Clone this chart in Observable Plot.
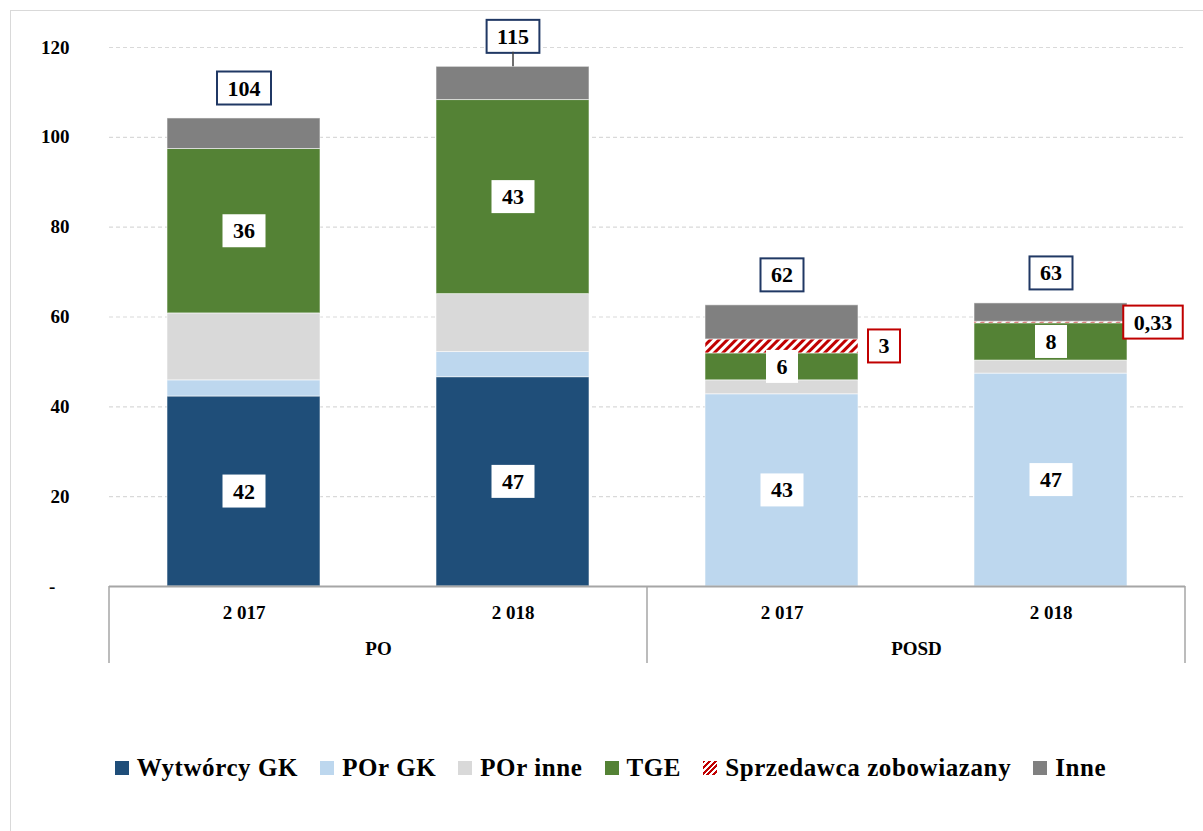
<!DOCTYPE html>
<html>
<head>
<meta charset="utf-8">
<script src="https://cdn.jsdelivr.net/npm/d3@7"></script>
<script src="https://cdn.jsdelivr.net/npm/@observablehq/plot@0.6"></script>
<style>
  html, body { margin: 0; padding: 0; background: #fff; }
  body { width: 1203px; height: 831px; overflow: hidden; position: relative; font-family: "Liberation Serif", "Times New Roman", serif; }
  #frame { position: absolute; left: 10px; top: 10px; width: 1400px; height: 1000px; border-left: 1px solid #d9d9d9; border-top: 1px solid #d9d9d9; }
  #chart { position: absolute; left: 0; top: 0; }
  #legend { position: absolute; left: 0; top: 754px; width: 1203px; padding-left: 18px; box-sizing: border-box; display: flex; justify-content: center; align-items: center; gap: 22px; font-weight: bold; font-size: 25px; letter-spacing: 0.6px; color: #000; }
  #legend .item { display: flex; align-items: center; }
  #legend .sw { width: 14px; height: 14px; margin-right: 8px; }
</style>
</head>
<body>
<div id="frame"></div>
<div id="chart"></div>
<div id="legend"></div>
<script>
// ---- data ----
const groups = ["PO", "PO", "POSD", "POSD"];
const years = ["2 017", "2 018", "2 017", "2 018"];
const seriesNames = ["Wytwórcy GK", "POr GK", "POr inne", "TGE", "Sprzedawca zobowiazany", "Inne"];
const seriesColors = ["#1F4E79", "#BDD7EE", "#D9D9D9", "#548235", "url(#hatchRed)", "#808080"];

const wytworcyGK = [42.3, 46.6, 0, 0];
const porGK      = [3.6, 5.6, 42.8, 47.4];
const porInne    = [14.9, 12.9, 3.1, 2.9];
const tge        = [36.6, 43.2, 6.0, 8.3];
const sprzedawca = [0, 0, 3.1, 0.33];
const inne       = [6.8, 7.4, 7.6, 4.1];

const wytworcyLabels   = ["42", "47", null, null];
const porGKLabels      = [null, null, "43", "47"];
const tgeLabels        = ["36", "43", "6", "8"];
const sprzedawcaLabels = [null, null, "3", "0,33"];
const totalLabels      = ["104", "115", "62", "63"];
const totalLeader      = [false, true, false, false];

const yTicks = [0, 20, 40, 60, 80, 100, 120];

// ---- build tables ----
const seriesValues = [wytworcyGK, porGK, porInne, tge, sprzedawca, inne];
const seriesLabels = [wytworcyLabels, porGKLabels, null, tgeLabels, null, null];
const data = [];
seriesNames.forEach((s, si) => {
  seriesValues[si].forEach((v, i) => {
    data.push({
      group: groups[i], year: years[i], series: s, value: v,
      label: seriesLabels[si] ? seriesLabels[si][i] : null,
      outLabel: si === 4 ? sprzedawcaLabels[i] : null
    });
  });
});
const totals = groups.map((g, i) => ({
  group: g, year: years[i],
  total: d3.sum(seriesValues, s => s[i]),
  label: totalLabels[i], leader: totalLeader[i]
}));

const font = "'Liberation Serif', 'Times New Roman', serif";

const plot = Plot.plot({
  width: 1203,
  height: 666,
  marginLeft: 108,
  marginRight: 18,
  marginTop: 47,
  marginBottom: 80,
  style: { fontFamily: font, fontWeight: "bold", color: "#000", background: "transparent", overflow: "visible" },
  fx: { domain: ["PO", "POSD"], padding: 0, label: null },
  x: { domain: ["2 017", "2 018"], paddingInner: 0.432, paddingOuter: 0.216, label: null },
  y: { domain: [0, 120], label: null },
  color: { domain: seriesNames, range: seriesColors },
  marks: [
    Plot.gridY(yTicks.filter(d => d > 0), { stroke: "#d9d9d9", strokeOpacity: 1, strokeWidth: 1.2, strokeDasharray: "4,3" }),
    Plot.barY(data, {
      fx: "group", x: "year", y: "value", fill: "series", order: seriesNames,
      stroke: "#ffffff", strokeWidth: 1, strokeOpacity: 0.55, inset: 0
    }),
    Plot.ruleY([0], { stroke: "#a6a6a6", strokeWidth: 2 }),
    Plot.text(data, Plot.stackY({
      fx: "group", x: "year", y: "value", z: "series", order: seriesNames,
      text: "label", fontSize: 22, fill: "#000", className: "seglabel"
    })),
    Plot.text(data, Plot.stackY({
      fx: "group", x: "year", y: "value", z: "series", order: seriesNames,
      text: "outLabel", fontSize: 22, fill: "#000", dx: 102, className: "redlabel"
    })),
    Plot.text(totals, {
      fx: "group", x: "year", y: "total", text: "label", dy: -30,
      fontSize: 22, fill: "#000", className: "totlabel"
    }),
    Plot.axisY(yTicks, {
      tickSize: 0, tickPadding: 40, fontSize: 19,
      tickFormat: d => d === 0 ? "-\u00a0\u00a0\u00a0" : String(d)
    }),
    Plot.axisX({ tickSize: 0, tickPadding: 19, fontSize: 19 }),
    Plot.axisFx({ anchor: "bottom", tickSize: 0, tickPadding: 55, fontSize: 19 })
  ]
});

document.getElementById("chart").appendChild(plot);

const svg = d3.select(plot);
// hatch pattern
const defs = svg.insert("defs", ":first-child");
const pat = defs.append("pattern")
  .attr("id", "hatchRed").attr("patternUnits", "userSpaceOnUse")
  .attr("width", 6).attr("height", 6).attr("patternTransform", "rotate(45)");
pat.append("rect").attr("width", 6).attr("height", 6).attr("fill", "#ffffff");
pat.append("rect").attr("width", 3).attr("height", 6).attr("fill", "#C00000");

// boxes behind labels
function boxify(cls, stroke, strokeWidth) {
  plot.querySelectorAll("g." + cls + " text").forEach(t => {
    const b = t.getBBox();
    const padX = 10.5, padY = 4;
    const r = document.createElementNS("http://www.w3.org/2000/svg", "rect");
    r.setAttribute("x", b.x - padX);
    r.setAttribute("y", b.y - padY);
    r.setAttribute("width", b.width + 2 * padX);
    r.setAttribute("height", b.height + 2 * padY);
    r.setAttribute("fill", "#ffffff");
    if (stroke) { r.setAttribute("stroke", stroke); r.setAttribute("stroke-width", strokeWidth); }
    if (t.getAttribute("transform")) r.setAttribute("transform", t.getAttribute("transform"));
    t.parentNode.insertBefore(r, t);
  });
}
boxify("seglabel", null, 0);
boxify("redlabel", "#C00000", 2);
boxify("totlabel", "#203864", 2);

const yS = plot.scale("y");
const fxS = plot.scale("fx");
const svgRect = plot.getBoundingClientRect();

// leader line for moved total label (from box bottom down to bar top)
plot.querySelectorAll("g.totlabel text").forEach(t => {
  const rec = totals.find(d => d.label === t.textContent);
  if (!rec || !rec.leader) return;
  const rb = t.previousSibling.getBoundingClientRect();
  const cx = rb.left + rb.width / 2 - svgRect.left;
  const by = rb.bottom - svgRect.top - 1;
  svg.append("line").attr("x1", cx).attr("x2", cx).attr("y1", by).attr("y2", yS.apply(rec.total))
    .attr("stroke", "#404040").attr("stroke-width", 1.5);
});

// category table separators
const y0 = yS.apply(0);
const edges = [];
fxS.domain.forEach(g => { edges.push(fxS.apply(g)); edges.push(fxS.apply(g) + fxS.bandwidth); });
const uniq = Array.from(new Set(edges.map(e => Math.round(e * 10) / 10)));
uniq.forEach(x => {
  svg.append("line").attr("x1", x).attr("x2", x).attr("y1", y0).attr("y2", y0 + 77)
    .attr("stroke", "#a6a6a6").attr("stroke-width", 1.5);
});

// legend
const legend = d3.select("#legend");
seriesNames.forEach((s, i) => {
  const it = legend.append("div").attr("class", "item");
  const sw = it.append("div").attr("class", "sw");
  if (i === 4) sw.style("background", "repeating-linear-gradient(135deg, #C00000 0 2px, #ffffff 2px 4px)");
  else sw.style("background", seriesColors[i]);
  it.append("span").text(s);
});
</script>
</body>
</html>
